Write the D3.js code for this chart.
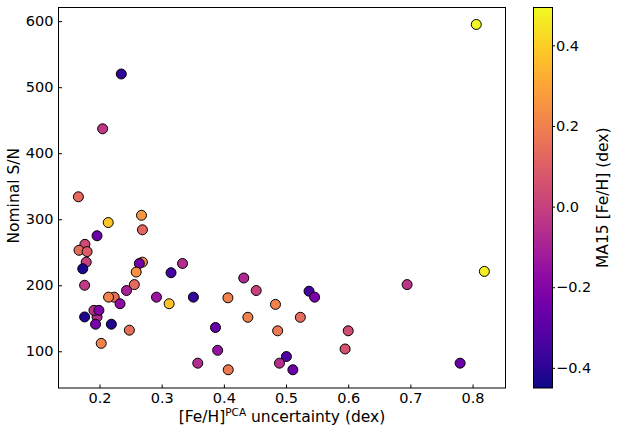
<head>
    <meta charset="utf-8">
    <title>Nominal S/N vs [Fe/H] PCA uncertainty</title>
    <script src="https://cdn.jsdelivr.net/npm/d3@7"></script>
</head>

<body style="margin:0; background:#fff;">

<div id="container"></div>

<script type="text/javascript">
    // values, one entry per star
    const uncertainty = [0.166, 0.2675, 0.214, 0.269, 0.196, 0.1765, 0.167, 0.180, 0.1786, 0.173,
        0.269, 0.264, 0.259, 0.315, 0.3335, 0.176, 0.256, 0.2434, 0.2236, 0.2145,
        0.233, 0.2916, 0.312, 0.351, 0.196, 0.191, 0.199, 0.176, 0.1936, 0.219,
        0.248, 0.2027, 0.3865, 0.39, 0.358, 0.235, 0.205, 0.806, 0.432, 0.452,
        0.4065, 0.483, 0.537, 0.546, 0.4386, 0.523, 0.4865, 0.600, 0.595, 0.5006,
        0.4894, 0.511, 0.407, 0.6947, 0.819, 0.780];
    const snr = [334, 306, 295, 284, 275, 262, 253, 251, 235, 225,
        235, 233, 220, 219, 233, 200, 201, 192, 182, 182,
        172, 182, 172, 182, 152, 162, 162, 152, 141, 141,
        132, 112, 136, 101.5, 82, 520, 437, 595, 211, 192,
        181, 171, 191, 182, 151.5, 151.5, 131, 131, 103.5, 92,
        82, 72, 72, 201, 221, 82];
    const feh = [0.13, 0.26, 0.38, 0.12, -0.26, 0.03, 0.14, 0.09, 0.0, -0.43,
        0.23, -0.24, 0.25, -0.35, -0.07, -0.02, 0.13, -0.1, 0.15, 0.21,
        -0.17, -0.14, 0.37, -0.38, -0.07, -0.05, -0.21, -0.43, -0.23, -0.42,
        0.15, 0.21, -0.27, -0.15, -0.07, -0.39, -0.03, 0.49, -0.08, 0.0,
        0.2, 0.21, -0.35, -0.22, 0.2, 0.14, 0.18, 0.04, 0.06, -0.32,
        -0.06, -0.26, 0.18, -0.04, 0.47, -0.26];

    const xTicks = [0.2, 0.3, 0.4, 0.5, 0.6, 0.7, 0.8];
    const yTicks = [100, 200, 300, 400, 500, 600];
    const cTicks = [-0.4, -0.2, 0.0, 0.2, 0.4];

    const W = 617, H = 439;
    const plot = {left: 58.5, right: 505.5, top: 7.5, bottom: 388};
    const bar = {left: 533.5, right: 552.5, top: 7.5, bottom: 388};
    const font = "'DejaVu Sans', sans-serif";

    const svg = d3.select("#container")
        .append("svg")
        .attr("width", W)
        .attr("height", H)
        .style("font-family", font);

    const x = d3.scaleLinear().domain([0.134, 0.853]).range([plot.left, plot.right]);
    const y = d3.scaleLinear().domain([44.4, 620.7]).range([plot.bottom, plot.top]);
    const color = d3.scaleSequential(d3.interpolatePlasma).domain([-0.45, 0.494]);

    const points = uncertainty.map((u, i) => ({u: u, s: snr[i], f: feh[i]}));

    // clip so nothing spills over the frame
    svg.append("clipPath").attr("id", "plotclip")
        .append("rect")
        .attr("x", plot.left).attr("y", plot.top)
        .attr("width", plot.right - plot.left).attr("height", plot.bottom - plot.top);

    svg.append("g")
        .attr("clip-path", "url(#plotclip)")
        .selectAll("circle")
        .data(points)
        .join("circle")
        .attr("cx", d => x(d.u))
        .attr("cy", d => y(d.s))
        .attr("r", 5)
        .attr("fill", d => color(d.f))
        .attr("stroke", "#000")
        .attr("stroke-width", 1);

    // axes, ticks pointing inward
    const xAxis = svg.append("g")
        .attr("transform", `translate(0,${plot.bottom})`)
        .call(d3.axisBottom(x).tickValues(xTicks).tickFormat(d3.format(".1f"))
            .tickSize(-3.5).tickPadding(5));
    const yAxis = svg.append("g")
        .attr("transform", `translate(${plot.left},0)`)
        .call(d3.axisLeft(y).tickValues(yTicks).tickFormat(d3.format("d"))
            .tickSize(-3.5).tickPadding(5));

    [xAxis, yAxis].forEach(a => {
        a.select(".domain").remove();
        a.selectAll("text").style("font-size", "14.5px").style("font-family", font).attr("fill", "#000");
        a.selectAll("line").attr("stroke", "#000");
    });

    svg.append("rect")
        .attr("x", plot.left).attr("y", plot.top)
        .attr("width", plot.right - plot.left).attr("height", plot.bottom - plot.top)
        .attr("fill", "none").attr("stroke", "#000").attr("stroke-width", 1);

    // axis labels
    const xl = svg.append("text")
        .attr("x", (plot.left + plot.right) / 2)
        .attr("y", 422)
        .attr("text-anchor", "middle")
        .style("font-size", "15.5px");
    xl.append("tspan").text("[Fe/H]");
    xl.append("tspan").attr("dy", -6).style("font-size", "10.5px").text("PCA");
    xl.append("tspan").attr("dy", 6).text(" uncertainty (dex)");

    svg.append("text")
        .attr("transform", `translate(19,${(plot.top + plot.bottom) / 2 - 2}) rotate(-90)`)
        .attr("text-anchor", "middle")
        .style("font-size", "15.5px")
        .text("Nominal S/N");

    // colour bar
    const grad = svg.append("defs").append("linearGradient")
        .attr("id", "plasma")
        .attr("x1", 0).attr("y1", 1).attr("x2", 0).attr("y2", 0);
    d3.range(0, 1.0001, 0.05).forEach(t => {
        grad.append("stop").attr("offset", t).attr("stop-color", d3.interpolatePlasma(t));
    });

    svg.append("rect")
        .attr("x", bar.left).attr("y", bar.top)
        .attr("width", bar.right - bar.left).attr("height", bar.bottom - bar.top)
        .attr("fill", "url(#plasma)")
        .attr("stroke", "#000").attr("stroke-width", 1);

    const c = d3.scaleLinear().domain(color.domain()).range([bar.bottom, bar.top]);
    const cAxis = svg.append("g")
        .attr("transform", `translate(${bar.right},0)`)
        .call(d3.axisRight(c).tickValues(cTicks).tickFormat(d3.format(".1f"))
            .tickSize(2.5).tickPadding(1));
    cAxis.select(".domain").remove();
    cAxis.selectAll("text").style("font-size", "14.5px").style("font-family", font).attr("fill", "#000");
    cAxis.selectAll("line").attr("stroke", "#000");

    svg.append("text")
        .attr("transform", `translate(608,${(bar.top + bar.bottom) / 2}) rotate(-90)`)
        .attr("text-anchor", "middle")
        .style("font-size", "15.5px")
        .text("MA15 [Fe/H] (dex)");
</script>
</body>
